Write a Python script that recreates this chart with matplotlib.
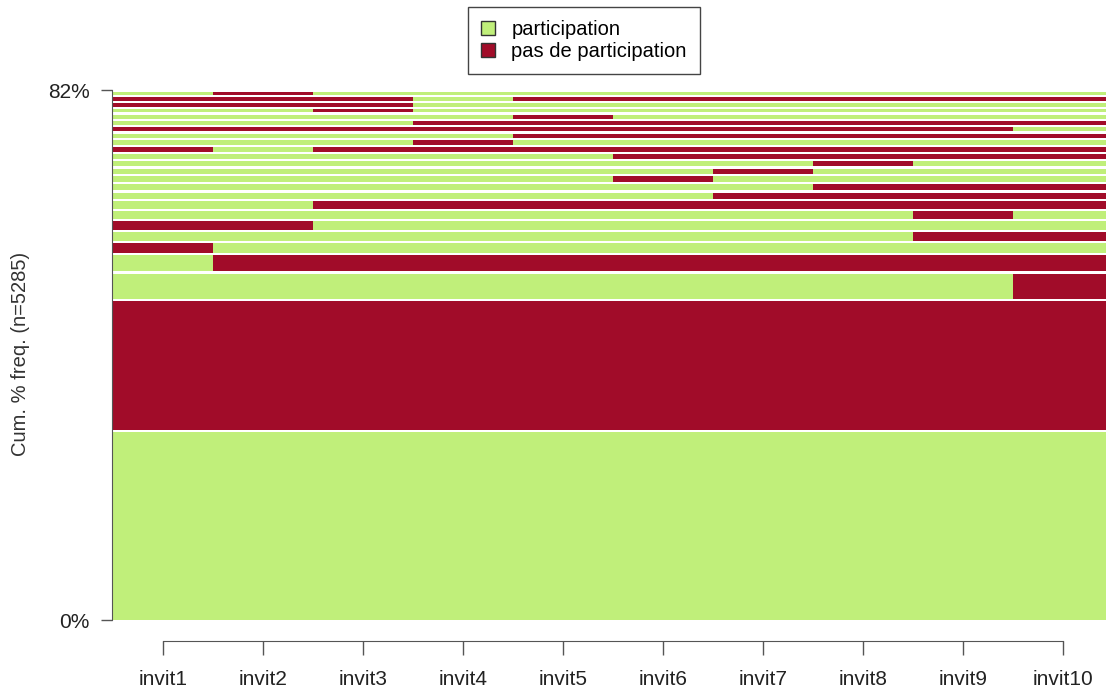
import matplotlib.pyplot as plt
from matplotlib.patches import Patch

plt.rcParams['font.family'] = ['Liberation Sans', 'DejaVu Sans']

# colonnes (invitations) et etats
colonnes = ['invit1', 'invit2', 'invit3', 'invit4', 'invit5',
            'invit6', 'invit7', 'invit8', 'invit9', 'invit10']
etats = ['participation', 'pas de participation']
couleurs = {'P': '#C0EF7A', 'N': '#A10C29'}

# sequences les plus frequentes, du bas vers le haut
# P = participation, N = pas de participation
sequences = [
    'PPPPPPPPPP', 'NNNNNNNNNN', 'PPPPPPPPPN', 'PNNNNNNNNN', 'NPPPPPPPPP',
    'PPPPPPPPNN', 'NNPPPPPPPP', 'PPPPPPPPNP', 'PPNNNNNNNN', 'PPPPPPNNNN',
    'PPPPPPPNNN', 'PPPPPNPPPP', 'PPPPPPNPPP', 'PPPPPPPNPP', 'PPPPPNNNNN',
    'NPNNNNNNNN', 'PPPNPPPPPP', 'PPPPNNNNNN', 'NNNNNNNNNP', 'PPPNNNNNNN',
    'PPPPNPPPPP', 'PPNPPPPPPP', 'NNNPPPPPPP', 'NNNPNNNNNN', 'PNPPPPPPPP',
]
# frequence de chaque sequence en %
freq = [29.4, 20.1, 4.3, 2.8, 1.85,
        1.8, 1.7, 1.55, 1.45, 1.35,
        1.3, 1.2, 1.2, 1.15, 1.1,
        1.1, 1.05, 1.0, 1.0, 1.0,
        0.95, 0.9, 0.9, 0.85, 0.8]
n_total = 5285

W, H = 1106, 691
fig = plt.figure(figsize=(W / 100, H / 100), dpi=100)
ax = fig.add_axes([113 / W, (H - 620) / H, 1000 / W, 530 / H])

total = sum(freq)
ecart = total * 2.2 / 530   # petit blanc entre les sequences

bas = 0
for seq, f in zip(sequences, freq):
    for j, s in enumerate(seq):
        ax.bar(j, f - ecart, width=1, bottom=bas, align='edge',
               color=couleurs[s], linewidth=0)
    bas += f

ax.set_xlim(0, len(colonnes))
ax.set_ylim(0, total)

for cote in ['top', 'right']:
    ax.spines[cote].set_visible(False)

gris = '#555555'
ax.spines['left'].set_position(('outward', 1))
ax.spines['left'].set_bounds(0, total)
ax.spines['left'].set_color(gris)
ax.spines['bottom'].set_position(('outward', 15))
ax.spines['bottom'].set_bounds(0.5, len(colonnes) - 0.5)
ax.spines['bottom'].set_color(gris)

ax.set_yticks([0, total])
ax.set_yticklabels(['0%', '%d%%' % round(total)])
ax.set_xticks([j + 0.5 for j in range(len(colonnes))])
ax.set_xticklabels(colonnes)
ax.tick_params(axis='y', length=8, width=1, color=gris, pad=8,
               labelsize=15, labelcolor='#222222')
ax.tick_params(axis='x', length=10, width=1, color=gris, pad=11,
               labelsize=15, labelcolor='#222222')

fig.text(21 / W, 1 - 354 / H, 'Cum. %% freq. (n=%d)' % n_total,
         rotation=90, ha='center', va='center', fontsize=14.5,
         color='#333333')

poignees = [Patch(facecolor=couleurs['P'], edgecolor='#333333', linewidth=1),
            Patch(facecolor=couleurs['N'], edgecolor='#333333', linewidth=1)]
fig.legend(poignees, etats, loc='upper center',
           bbox_to_anchor=(584 / W, 1 - 7 / H), fontsize=14.5,
           frameon=True, fancybox=False, framealpha=1, edgecolor='#444444',
           handlelength=0.7, handleheight=0.7, handletextpad=0.8,
           labelspacing=0.15, borderpad=0.65, borderaxespad=0)

fig.savefig('out.png', dpi=100)
